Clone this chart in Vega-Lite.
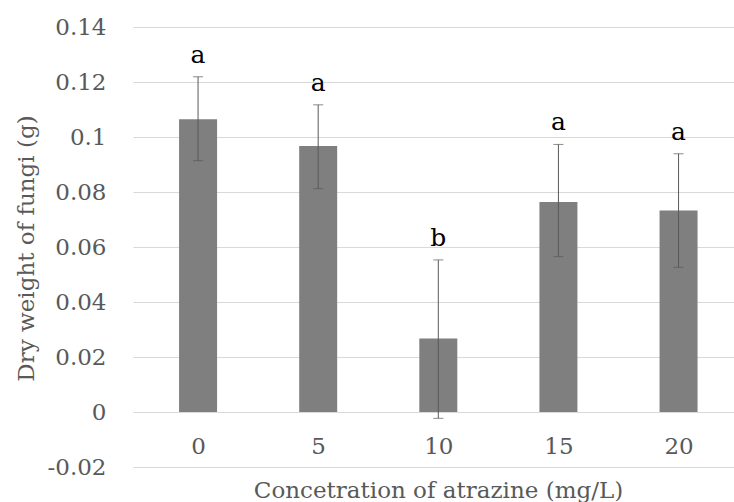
{
  "$schema": "https://vega.github.io/schema/vega-lite/v6.json",
  "autosize": "none",
  "padding": {"left": 133, "top": 27, "right": 0, "bottom": 35},
  "width": 601,
  "height": 440,
  "config": {
    "view": {"stroke": null},
    "font": "DejaVu Serif"
  },
  "data": {
    "values": [
      {"conc": 0, "mean": 0.1065, "lo": 0.0914, "hi": 0.1219, "sig": "a"},
      {"conc": 5, "mean": 0.0967, "lo": 0.0812, "hi": 0.1117, "sig": "a"},
      {"conc": 10, "mean": 0.0267, "lo": -0.0023, "hi": 0.0553, "sig": "b"},
      {"conc": 15, "mean": 0.0764, "lo": 0.0565, "hi": 0.0973, "sig": "a"},
      {"conc": 20, "mean": 0.0733, "lo": 0.0526, "hi": 0.0939, "sig": "a"}
    ]
  },
  "encoding": {
    "x": {
      "field": "conc",
      "type": "quantitative",
      "scale": {"domain": [-2.5, 22.1], "nice": false, "zero": false},
      "axis": {
        "orient": "bottom",
        "offset": -55,
        "values": [0, 5, 10, 15, 20],
        "domain": false,
        "ticks": false,
        "grid": false,
        "labelFont": "DejaVu Serif",
        "labelFontSize": 23,
        "labelColor": "#595959",
        "labelBaseline": "middle",
        "labelPadding": 34,
        "title": "Concetration of atrazine (mg/L)",
        "titleFont": "DejaVu Serif",
        "titleFontSize": 23,
        "titleFontWeight": "normal",
        "titleColor": "#595959",
        "titleBaseline": "alphabetic",
        "titleX": 305,
        "titleY": 85
      }
    }
  },
  "layer": [
    {
      "mark": {"type": "bar", "width": 38, "color": "#7f7f7f"},
      "encoding": {
        "y": {
          "field": "mean",
          "type": "quantitative",
          "scale": {"domain": [-0.02, 0.14], "nice": false, "zero": false},
          "axis": {
            "values": [-0.02, 0, 0.02, 0.04, 0.06, 0.08, 0.1, 0.12, 0.14],
            "labelExpr": "'' + datum.value",
            "domain": false,
            "ticks": false,
            "grid": true,
            "gridColor": "#d9d9d9",
            "gridWidth": 1,
            "labelFont": "DejaVu Serif",
            "labelFontSize": 23,
            "labelColor": "#595959",
            "labelPadding": 27,
            "title": "Dry weight of fungi (g)",
            "titleFont": "DejaVu Serif",
            "titleFontSize": 23,
            "titleFontWeight": "normal",
            "titleColor": "#595959",
            "titleBaseline": "middle",
            "titleAlign": "center",
            "titleAngle": -90,
            "titleX": -107,
            "titleY": 221
          }
        },
        "y2": {"datum": 0}
      }
    },
    {
      "mark": {"type": "rule", "color": "#595959", "strokeWidth": 1},
      "encoding": {
        "y": {"field": "lo", "type": "quantitative"},
        "y2": {"field": "hi"}
      }
    },
    {
      "mark": {"type": "tick", "orient": "horizontal", "size": 10, "thickness": 1, "color": "#595959"},
      "encoding": {
        "y": {"field": "lo", "type": "quantitative"}
      }
    },
    {
      "mark": {"type": "tick", "orient": "horizontal", "size": 10, "thickness": 1, "color": "#595959"},
      "encoding": {
        "y": {"field": "hi", "type": "quantitative"}
      }
    },
    {
      "mark": {"type": "text", "baseline": "alphabetic", "dy": -14, "font": "DejaVu Serif", "fontSize": 25, "color": "#000000"},
      "encoding": {
        "y": {"field": "hi", "type": "quantitative"},
        "text": {"field": "sig"}
      }
    }
  ]
}
